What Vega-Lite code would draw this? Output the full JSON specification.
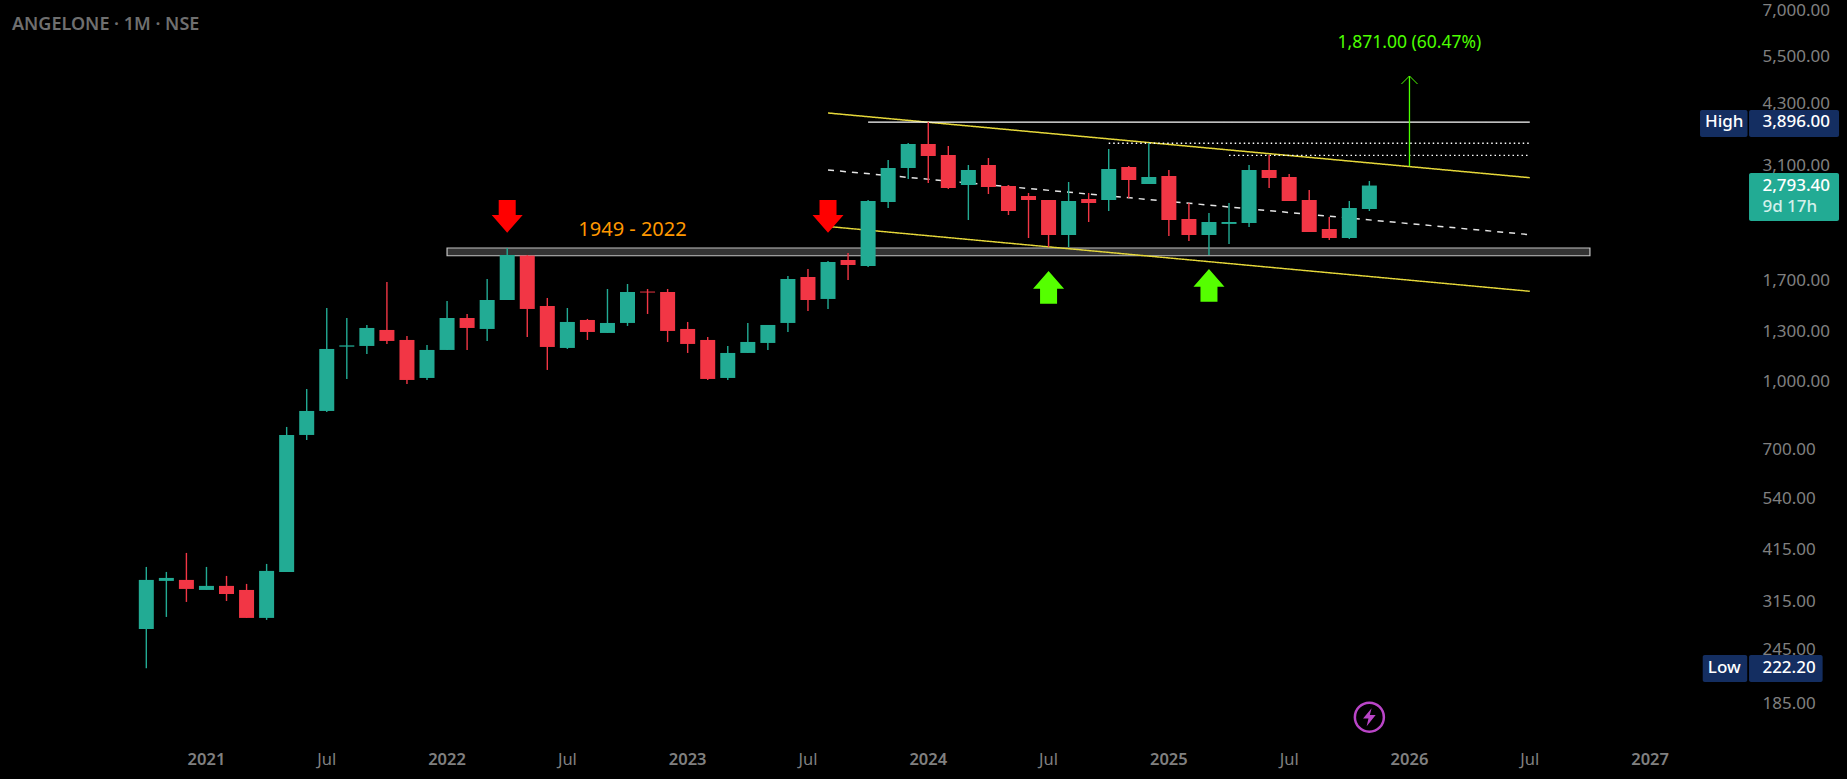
{
  "$schema": "https://vega.github.io/schema/vega-lite/v6.json",
  "description": "ANGELONE monthly candlestick chart with trend channel and annotations.",
  "width": 1847,
  "height": 779,
  "autosize": "none",
  "padding": 0,
  "background": "#000000",
  "title": {"text": "ANGELONE · 1M · NSE", "anchor": "start", "frame": "group", "orient": "top", "offset": 0, "dx": 12, "dy": 43, "baseline": "middle", "font": "Noto Sans", "fontSize": 18, "fontWeight": 600, "color": "#6f6f6f"},
  "datasets": {
    "candles": [
      {"month":"2020-10","open":273,"high":378,"low":222.2,"close":353.1},
      {"month":"2020-11","open":351.3,"high":368.2,"low":290.8,"close":356.8},
      {"month":"2020-12","open":353.1,"high":406.8,"low":314.6,"close":336.8},
      {"month":"2021-01","open":335,"high":378,"low":335,"close":342.2},
      {"month":"2021-02","open":342.2,"high":360.6,"low":316.2,"close":328},
      {"month":"2021-03","open":335,"high":345.8,"low":289.3,"close":289.3},
      {"month":"2021-04","open":289.3,"high":384,"low":286.3,"close":370.2},
      {"month":"2021-05","open":368.2,"high":787.6,"low":368.2,"close":755.2},
      {"month":"2021-06","open":755.2,"high":961.2,"low":735.7,"close":856.5},
      {"month":"2021-07","open":856.5,"high":1469.9,"low":852,"close":1185.6},
      {"month":"2021-08","open":1200,"high":1394.8,"low":1013,"close":1208},
      {"month":"2021-09","open":1204.4,"high":1344.6,"low":1154.9,"close":1323.6},
      {"month":"2021-10","open":1309.8,"high":1684.6,"low":1217.1,"close":1236.4},
      {"month":"2021-11","open":1242.9,"high":1269.2,"low":986.8,"close":1007.7},
      {"month":"2021-12","open":1018.3,"high":1210.7,"low":1007.7,"close":1179.4},
      {"month":"2022-01","open":1179.4,"high":1524.9,"low":1179.4,"close":1394.8},
      {"month":"2022-02","open":1394.8,"high":1424.4,"low":1179.4,"close":1323.6},
      {"month":"2022-03","open":1316.7,"high":1711.3,"low":1236.4,"close":1532.9},
      {"month":"2022-04","open":1532.9,"high":2013.3,"low":1532.9,"close":1940.8},
      {"month":"2022-05","open":1935,"high":1941,"low":1262.6,"close":1462.3},
      {"month":"2022-06","open":1485.4,"high":1549.1,"low":1062,"close":1198.1},
      {"month":"2022-07","open":1191.9,"high":1469.9,"low":1185.6,"close":1365.9},
      {"month":"2022-08","open":1380.3,"high":1387.6,"low":1242.9,"close":1296.1},
      {"month":"2022-09","open":1289.4,"high":1623.9,"low":1289.4,"close":1358.8},
      {"month":"2022-10","open":1358.8,"high":1667.1,"low":1337.6,"close":1598.6},
      {"month":"2022-11","open":1602,"high":1623.9,"low":1424.4,"close":1594},
      {"month":"2022-12","open":1598.6,"high":1623.9,"low":1229.9,"close":1303},
      {"month":"2023-01","open":1316.7,"high":1365.9,"low":1161,"close":1217.1},
      {"month":"2023-02","open":1242.9,"high":1262.6,"low":1007.7,"close":1013},
      {"month":"2023-03","open":1018.3,"high":1204.4,"low":1007.7,"close":1161},
      {"month":"2023-04","open":1161,"high":1358.8,"low":1161,"close":1229.9},
      {"month":"2023-05","open":1223.5,"high":1344.6,"low":1179.4,"close":1344.6},
      {"month":"2023-06","open":1358.8,"high":1738.5,"low":1296.1,"close":1711.3},
      {"month":"2023-07","open":1729.4,"high":1803.4,"low":1447,"close":1532.9},
      {"month":"2023-08","open":1541,"high":1880.7,"low":1462.3,"close":1870.9},
      {"month":"2023-09","open":1890.6,"high":1961.2,"low":1702.4,"close":1841.7},
      {"month":"2023-10","open":1832,"high":2589.6,"low":1822.5,"close":2576},
      {"month":"2023-11","open":2562.6,"high":3194,"low":2483.2,"close":3062.8},
      {"month":"2023-12","open":3062.8,"high":3491.7,"low":2891.1,"close":3473.5},
      {"month":"2024-01","open":3473.5,"high":3896,"low":2831.1,"close":3261.7},
      {"month":"2024-02","open":3278.8,"high":3437.3,"low":2743.5,"close":2757.9},
      {"month":"2024-03","open":2801.6,"high":3111.4,"low":2331.8,"close":3030.8},
      {"month":"2024-04","open":3111.4,"high":3227.7,"low":2672.4,"close":2772.4},
      {"month":"2024-05","open":2786.9,"high":2801.6,"low":2393.7,"close":2444.4},
      {"month":"2024-06","open":2644.5,"high":2686.4,"low":2121.8,"close":2589.6},
      {"month":"2024-07","open":2589.6,"high":2589.6,"low":2024,"close":2155.5},
      {"month":"2024-08","open":2155.5,"high":2846,"low":2024,"close":2576},
      {"month":"2024-09","open":2603.2,"high":2686.4,"low":2307.5,"close":2549.2},
      {"month":"2024-10","open":2589.6,"high":3383.6,"low":2444.4,"close":3046.7},
      {"month":"2024-11","open":3078.9,"high":3095.1,"low":2616.9,"close":2876},
      {"month":"2024-12","open":2816.3,"high":3491.7,"low":2816.3,"close":2921.6},
      {"month":"2025-01","open":2937,"high":3030.8,"low":2144.2,"close":2331.8},
      {"month":"2025-02","open":2344.1,"high":2549.2,"low":2088.6,"close":2155.5},
      {"month":"2025-03","open":2155.5,"high":2418.9,"low":1940.8,"close":2307.5},
      {"month":"2025-04","open":2284,"high":2549.2,"low":2056,"close":2307},
      {"month":"2025-05","open":2295.4,"high":3111.4,"low":2247.8,"close":3030.8},
      {"month":"2025-06","open":3030.8,"high":3278.8,"low":2757.9,"close":2906.4},
      {"month":"2025-07","open":2921.6,"high":2968,"low":2576,"close":2576},
      {"month":"2025-08","open":2589.6,"high":2729,"low":2189.6,"close":2189.6},
      {"month":"2025-09","open":2224.3,"high":2368.8,"low":2099.6,"close":2121.8},
      {"month":"2025-10","open":2121.8,"high":2576,"low":2110.6,"close":2483.2},
      {"month":"2025-11","open":2470.2,"high":2861,"low":2444.4,"close":2793.4}
    ],
    "lines": [
      {"series":"upper","month":"2023-08","price":4086.7},
      {"series":"upper","month":"2026-07","price":2910.9},
      {"series":"mid","month":"2023-08","price":3030.8},
      {"series":"mid","month":"2026-07","price":2158.8},
      {"series":"lower","month":"2023-08","price":2253.7},
      {"series":"lower","month":"2026-07","price":1604.4},
      {"series":"high","month":"2023-10","price":3896},
      {"series":"high","month":"2026-07","price":3896},
      {"series":"dot1","month":"2024-10","price":3486.3},
      {"series":"dot1","month":"2026-07","price":3486.3},
      {"series":"dot2","month":"2025-04","price":3273.6},
      {"series":"dot2","month":"2026-07","price":3273.6},
      {"series":"target","month":"2026-01","price":3090.2},
      {"series":"target","month":"2026-01","price":4962.3}
    ]
  },
  "layer": [
    {
      "data": {"values": [{"month":"2022-01","month2":"2026-10","low":1933,"high":2013}]},
      "mark": {"type": "rect", "fill": "#333333", "stroke": "#c4c4c4", "strokeWidth": 1.2},
      "encoding": {
        "x": {
          "field": "month", "type": "ordinal", "bandPosition": 0.5, "title": null,
          "scale": {"type": "band", "range": [-4.07, 1860.6], "paddingInner": 0, "paddingOuter": 0, "domain": ["2020-03","2020-04","2020-05","2020-06","2020-07","2020-08","2020-09","2020-10","2020-11","2020-12","2021-01","2021-02","2021-03","2021-04","2021-05","2021-06","2021-07","2021-08","2021-09","2021-10","2021-11","2021-12","2022-01","2022-02","2022-03","2022-04","2022-05","2022-06","2022-07","2022-08","2022-09","2022-10","2022-11","2022-12","2023-01","2023-02","2023-03","2023-04","2023-05","2023-06","2023-07","2023-08","2023-09","2023-10","2023-11","2023-12","2024-01","2024-02","2024-03","2024-04","2024-05","2024-06","2024-07","2024-08","2024-09","2024-10","2024-11","2024-12","2025-01","2025-02","2025-03","2025-04","2025-05","2025-06","2025-07","2025-08","2025-09","2025-10","2025-11","2025-12","2026-01","2026-02","2026-03","2026-04","2026-05","2026-06","2026-07","2026-08","2026-09","2026-10","2026-11","2026-12","2027-01","2027-02","2027-03","2027-04","2027-05","2027-06","2027-07","2027-08","2027-09","2027-10","2027-11"]},
          "axis": {
            "orient": "bottom", "offset": -20, "domain": false, "ticks": false, "grid": false, "labelPadding": 0,
            "values": ["2021-01","2021-07","2022-01","2022-07","2023-01","2023-07","2024-01","2024-07","2025-01","2025-07","2026-01","2026-07","2027-01"],
            "labelExpr": "slice(datum.value, 5) == '01' ? slice(datum.value, 0, 4) : 'Jul'",
            "labelAngle": 0, "labelOverlap": false, "labelBound": false, "labelFlush": false, "labelBaseline": "middle",
            "labelFont": "Noto Sans", "labelFontSize": 16.5, "labelColor": "#808080",
            "labelFontWeight": {"condition": {"test": "slice(datum.value, 5) == '01'", "value": 600}, "value": 400}
          }
        },
        "x2": {"field": "month2", "bandPosition": 0.5},
        "y": {
          "field": "low", "type": "quantitative", "title": null,
          "scale": {"type": "log", "domain": [124.3, 7391.6], "nice": false},
          "axis": {
            "orient": "right", "offset": -85, "domain": false, "ticks": false, "grid": false, "labelPadding": 0,
            "values": [7000,5500,4300,3100,2500,1700,1300,1000,700,540,415,315,245,185],
            "format": ",.2f", "labelAlign": "left", "labelBaseline": "middle", "labelOverlap": false, "labelBound": false, "labelFlush": false,
            "labelFont": "Noto Sans", "labelFontSize": 17, "labelColor": "#808080"
          }
        },
        "y2": {"field": "high"}
      }
    },
    {
      "data": {"name": "lines"},
      "mark": {"type": "line", "interpolate": "linear"},
      "encoding": {
        "x": {"field": "month", "type": "ordinal"},
        "y": {"field": "price", "type": "quantitative", "scale": {"type": "log", "domain": [124.3, 7391.6], "nice": false}},
        "color": {"field": "series", "type": "nominal", "legend": null, "scale": {"domain": ["upper","mid","lower","high","dot1","dot2","target"], "range": ["#e6d83a","#e4e4e4","#e6d83a","#ffffff","#ffffff","#ffffff","#4cff00"]}},
        "strokeDash": {"field": "series", "type": "nominal", "legend": null, "scale": {"domain": ["upper","mid","lower","high","dot1","dot2","target"], "range": [[1,0],[6,6],[1,0],[1,0],[1.5,3],[1.5,3],[1,0]]}},
        "strokeWidth": {"field": "series", "type": "nominal", "legend": null, "scale": {"domain": ["upper","mid","lower","high","dot1","dot2","target"], "range": [1.5,1.3,1.5,1.5,1.2,1.2,1]}}
      }
    },
    {
      "data": {"values": [{"month":"2026-01","price":4962.3}]},
      "mark": {"type": "point", "shape": "M-1,1L0,0L1,1", "size": 256, "filled": false, "stroke": "#4cff00", "strokeWidth": 1, "opacity": 1},
      "encoding": {
        "x": {"field": "month", "type": "ordinal"},
        "y": {"field": "price", "type": "quantitative", "scale": {"type": "log", "domain": [124.3, 7391.6], "nice": false}}
      }
    },
    {
      "data": {"name": "candles"},
      "mark": {"type": "rule", "strokeWidth": 1.4},
      "encoding": {
        "x": {"field": "month", "type": "ordinal"},
        "y": {"field": "low", "type": "quantitative", "scale": {"type": "log", "domain": [124.3, 7391.6], "nice": false}},
        "y2": {"field": "high"},
        "color": {"condition": {"test": "datum.close >= datum.open", "value": "#22ab94"}, "value": "#f23645"}
      }
    },
    {
      "data": {"name": "candles"},
      "mark": {"type": "bar", "width": 15},
      "encoding": {
        "x": {"field": "month", "type": "ordinal"},
        "y": {"field": "open", "type": "quantitative", "scale": {"type": "log", "domain": [124.3, 7391.6], "nice": false}},
        "y2": {"field": "close"},
        "color": {"condition": {"test": "datum.close >= datum.open", "value": "#22ab94"}, "value": "#f23645"}
      }
    },
    {
      "data": {"values": [{"month":"2022-04","price":2376.8},{"month":"2023-08","price":2376.8}]},
      "mark": {"type": "point", "shape": "M-.52,-1L.52,-1L.52,-.083L.948,-.083L0,1L-.948,-.083L-.52,-.083Z", "size": 1069, "filled": true, "fill": "#ff0000", "opacity": 1},
      "encoding": {
        "x": {"field": "month", "type": "ordinal"},
        "y": {"field": "price", "type": "quantitative", "scale": {"type": "log", "domain": [124.3, 7391.6], "nice": false}}
      }
    },
    {
      "data": {"values": [{"month":"2024-07","price":1638},{"month":"2025-03","price":1655.3}]},
      "mark": {"type": "point", "shape": "M-.52,1L.52,1L.52,.083L.948,.083L0,-1L-.948,.083L-.52,.083Z", "size": 1069, "filled": true, "fill": "#55ff00", "opacity": 1},
      "encoding": {
        "x": {"field": "month", "type": "ordinal"},
        "y": {"field": "price", "type": "quantitative", "scale": {"type": "log", "domain": [124.3, 7391.6], "nice": false}}
      }
    },
    {
      "data": {"values": [{"month":"2022-10","price":2212.7,"label":"1949 - 2022"}]},
      "mark": {"type": "text", "font": "Noto Sans", "fontSize": 20, "color": "#ff9800", "xOffset": 5, "baseline": "middle"},
      "encoding": {
        "x": {"field": "month", "type": "ordinal"},
        "y": {"field": "price", "type": "quantitative", "scale": {"type": "log", "domain": [124.3, 7391.6], "nice": false}},
        "text": {"field": "label"}
      }
    },
    {
      "data": {"values": [{"month":"2026-01","price":5899.5,"label":"1,871.00 (60.47%)"}]},
      "mark": {"type": "text", "font": "Noto Sans", "fontSize": 17.5, "color": "#4cff00", "baseline": "middle"},
      "encoding": {
        "x": {"field": "month", "type": "ordinal"},
        "y": {"field": "price", "type": "quantitative", "scale": {"type": "log", "domain": [124.3, 7391.6], "nice": false}},
        "text": {"field": "label"}
      }
    },
    {
      "data": {"values": [{"month":"2025-11","price":171.9}]},
      "mark": {"type": "point", "shape": "circle", "size": 841, "filled": false, "stroke": "#ba45c8", "strokeWidth": 2.5, "opacity": 1},
      "encoding": {
        "x": {"field": "month", "type": "ordinal"},
        "y": {"field": "price", "type": "quantitative", "scale": {"type": "log", "domain": [124.3, 7391.6], "nice": false}}
      }
    },
    {
      "data": {"values": [{"month":"2025-11","price":171.9}]},
      "mark": {"type": "point", "shape": "M.25,-1L-.7,.15L-.1,.15L-.3,1L.7,-.25L.05,-.25Z", "size": 324, "filled": true, "fill": "#ba45c8", "opacity": 1},
      "encoding": {
        "x": {"field": "month", "type": "ordinal"},
        "y": {"field": "price", "type": "quantitative", "scale": {"type": "log", "domain": [124.3, 7391.6], "nice": false}}
      }
    },
    {
      "data": {"values": [{"month":"2027-08","low":3603.4,"high":4151.6}]},
      "mark": {"type": "bar", "width": 90, "xOffset": 3.6, "cornerRadius": 2, "color": "#142e61"},
      "encoding": {
        "x": {"field": "month", "type": "ordinal"},
        "y": {"field": "low", "type": "quantitative", "scale": {"type": "log", "domain": [124.3, 7391.6], "nice": false}},
        "y2": {"field": "high"}
      }
    },
    {
      "data": {"values": [{"month":"2027-08","low":2319.6,"high":2983.5}]},
      "mark": {"type": "bar", "width": 90, "xOffset": 3.6, "cornerRadius": 2, "color": "#22ab94"},
      "encoding": {
        "x": {"field": "month", "type": "ordinal"},
        "y": {"field": "low", "type": "quantitative", "scale": {"type": "log", "domain": [124.3, 7391.6], "nice": false}},
        "y2": {"field": "high"}
      }
    },
    {
      "data": {"values": [{"month":"2027-05","low":3603.4,"high":4151.6}]},
      "mark": {"type": "bar", "width": 47.5, "xOffset": -6.5, "cornerRadius": 2, "color": "#142e61"},
      "encoding": {
        "x": {"field": "month", "type": "ordinal"},
        "y": {"field": "low", "type": "quantitative", "scale": {"type": "log", "domain": [124.3, 7391.6], "nice": false}},
        "y2": {"field": "high"}
      }
    },
    {
      "data": {"values": [{"month":"2027-05","low":206.8,"high":238.3}]},
      "mark": {"type": "bar", "width": 44.5, "xOffset": -5.3, "cornerRadius": 2, "color": "#142e61"},
      "encoding": {
        "x": {"field": "month", "type": "ordinal"},
        "y": {"field": "low", "type": "quantitative", "scale": {"type": "log", "domain": [124.3, 7391.6], "nice": false}},
        "y2": {"field": "high"}
      }
    },
    {
      "data": {"values": [{"month":"2027-08","low":206.8,"high":238.3}]},
      "mark": {"type": "bar", "width": 73.6, "xOffset": -4.6, "cornerRadius": 2, "color": "#142e61"},
      "encoding": {
        "x": {"field": "month", "type": "ordinal"},
        "y": {"field": "low", "type": "quantitative", "scale": {"type": "log", "domain": [124.3, 7391.6], "nice": false}},
        "y2": {"field": "high"}
      }
    },
    {
      "data": {"values": [
        {"month":"2027-08","price":3896,"label":"3,896.00"},
        {"month":"2027-08","price":2793.4,"label":"2,793.40"},
        {"month":"2027-08","price":2492.3,"label":"9d 17h"},
        {"month":"2027-08","price":222.2,"label":"222.20"}
      ]},
      "mark": {"type": "text", "font": "Noto Sans", "fontSize": 17, "fontWeight": 500, "align": "left", "baseline": "middle", "xOffset": -28},
      "encoding": {
        "x": {"field": "month", "type": "ordinal"},
        "y": {"field": "price", "type": "quantitative", "scale": {"type": "log", "domain": [124.3, 7391.6], "nice": false}},
        "text": {"field": "label"},
        "color": {"condition": {"test": "datum.label == '9d 17h'", "value": "#d3f0eb"}, "value": "#ffffff"}
      }
    },
    {
      "data": {"values": [
        {"month":"2027-05","price":3896,"label":"High"},
        {"month":"2027-05","price":222.2,"label":"Low"}
      ]},
      "mark": {"type": "text", "font": "Noto Sans", "fontSize": 17, "fontWeight": 500, "color": "#ffffff", "baseline": "middle", "xOffset": -6},
      "encoding": {
        "x": {"field": "month", "type": "ordinal"},
        "y": {"field": "price", "type": "quantitative", "scale": {"type": "log", "domain": [124.3, 7391.6], "nice": false}},
        "text": {"field": "label"}
      }
    }
  ],
  "config": {"view": {"stroke": null}}
}
